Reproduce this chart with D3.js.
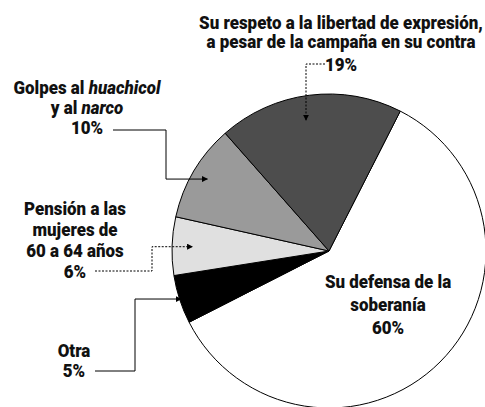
<!DOCTYPE html>
<html>
<head>
<meta charset="utf-8">
<script src="https://cdn.jsdelivr.net/npm/d3@7"></script>
<style>
  body { margin: 0; background: #fff; }
  svg { display: block; }
  .lbl { font-family: Roboto, "Noto Sans", sans-serif; font-weight: 900; font-size: 17.5px; fill: #111; }
</style>
</head>
<body>
<svg id="chart" width="485" height="407"></svg>
<script>
// answers, in drawing order (clockwise)
const categories = ["Su defensa de la soberanía", "Otra", "Pensión a las mujeres de 60 a 64 años",
                    "Golpes al huachicol y al narco", "Su respeto a la libertad de expresión"];
const values = [60, 5, 6, 10, 19];
const valueLabels = ["60%", "5%", "6%", "10%", "19%"];

const width = 485, height = 407;
const cx = 329, cy = 251, radius = 157;
const startOffset = 27 * Math.PI / 180;

const svg = d3.select("#chart");

let color = d3.scaleOrdinal()
    .domain(categories)
    .range(["#ffffff", "#000000", "#e0e0e0", "#9a9a9a", "#4d4d4d"]);

let pie = d3.pie()
    .sort(null)
    .startAngle(startOffset)
    .endAngle(startOffset + 2 * Math.PI);
let arcs = pie(values);

let arc = d3.arc().innerRadius(0).outerRadius(radius);

let g = svg.append("g").attr("transform", "translate(" + cx + "," + cy + ")");
g.selectAll("path")
    .data(arcs)
    .enter()
    .append("path")
    .attr("d", arc)
    .attr("fill", (d, i) => color(categories[i]))
    .attr("stroke", "#000")
    .attr("stroke-width", 1);

// arrow marker
svg.append("defs").append("marker")
    .attr("id", "arrow")
    .attr("viewBox", "0 0 10 10")
    .attr("refX", 9).attr("refY", 5)
    .attr("markerWidth", 6).attr("markerHeight", 6)
    .attr("markerUnits", "userSpaceOnUse")
    .attr("orient", "auto")
    .append("path")
    .attr("d", "M0,0 L10,5 L0,10 z")
    .attr("fill", "#000");

// point inside slice i at a fraction of the radius
function tip(i, k) {
    let a = (arcs[i].startAngle + arcs[i].endAngle) / 2;
    return [cx + Math.sin(a) * radius * k, cy - Math.cos(a) * radius * k];
}

// the reference uses a condensed face: squeeze text horizontally
let squeeze = 1;
function label(lines, x, ys) {
    let grp = svg.append("g")
        .attr("transform", "translate(" + x + ",0) scale(" + squeeze + ",1)");
    let t = grp.append("text").attr("class", "lbl").attr("text-anchor", "middle");
    lines.forEach((parts, j) => {
        let line = t.append("tspan").attr("x", 0).attr("y", ys[j]);
        parts.forEach(p => {
            line.append("tspan")
                .attr("font-style", p.i ? "italic" : null)
                .text(p.t);
        });
    });
    return t;
}
const P = s => [{t: s}];

// measure the widest title line, target width
let probe = svg.append("text").attr("class", "lbl").text("Su respeto a la libertad de expresión,");
squeeze = 284 / probe.node().getComputedTextLength();
probe.remove();

// leaders
let leaders = [
    {i: 4, k: 0.84, dash: true, from: [325, 64], elbow: [306]},
    {i: 3, k: 0.9, dash: false, from: [113, 130], elbow: [166]},
    {i: 2, k: 0.87, dash: true, from: [95, 271], elbow: [152]},
    {i: 1, k: 0.99, dash: false, from: [95, 371], elbow: [135]}
];
leaders.forEach(l => {
    let t = tip(l.i, l.k);
    let pts;
    if (l.i === 4) {
        pts = [l.from, [l.elbow[0], l.from[1]], [l.elbow[0], t[1]]];
    } else {
        pts = [l.from, [l.elbow[0], l.from[1]], [l.elbow[0], t[1]], [t[0], t[1]]];
    }
    svg.append("path")
        .attr("d", d3.line()(pts))
        .attr("fill", "none")
        .attr("stroke", "#000")
        .attr("stroke-width", 1)
        .attr("stroke-dasharray", l.dash ? "2,1.5" : null)
        .attr("marker-end", "url(#arrow)");
});

label([P("Su respeto a la libertad de expresión,"), P("a pesar de la campaña en su contra"), P(valueLabels[4])], 341, [29, 48.5, 71.5]);
label([[{t: "Golpes al "}, {t: "huachicol", i: true}], [{t: "y al "}, {t: "narco", i: true}], P(valueLabels[3])], 87, [94, 114, 134]);
label([P("Pensión a las"), P("mujeres de"), P("60 a 64 años"), P(valueLabels[2])], 75, [215, 236, 257, 278]);
label([P("Otra"), P(valueLabels[1])], 74, [357, 377.5]);
label([P("Su defensa de la"), P("soberanía"), P(valueLabels[0])], 388, [288, 311, 334]);
</script>
</body>
</html>
